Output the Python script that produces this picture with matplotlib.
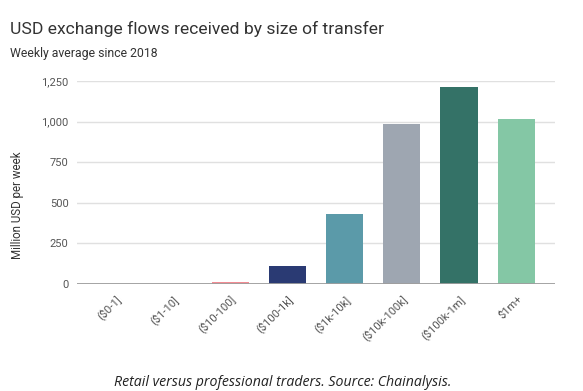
import matplotlib
matplotlib.use("Agg")
import matplotlib.pyplot as plt
import matplotlib.transforms as mtransforms
from matplotlib.ticker import FuncFormatter

categories = ["($0-1]", "($1-10]", "($10-100]", "($100-1k]", "($1k-10k]",
              "($10k-100k]", "($100k-1m]", "$1m+"]
values = [0.3, 1.5, 15, 111, 431, 985, 1212, 1016]
colors = ["#4e79a7", "#f2b84b", "#f28b93", "#2a3a73", "#5b9aa9",
          "#9ea6b1", "#347267", "#84c7a5"]
yticks = [0, 250, 500, 750, 1000, 1250]

fig = plt.figure(figsize=(5.83, 3.91), dpi=100)
ax = fig.add_axes([77/583, 1-284/391, (555-77)/583, (284-81)/391])

x = list(range(len(categories)))
ax.bar(x, values, width=0.65, color=colors, zorder=3)

ax.set_xlim(-0.68, 7.68)
ax.set_ylim(0, 1250)
ax.set_yticks(yticks)
ax.yaxis.set_major_formatter(FuncFormatter(lambda v, p: f"{int(v):,}"))
ax.grid(axis="y", color="#e0e0e0", linewidth=1, zorder=0)
ax.axhline(0, color="#9e9e9e", linewidth=1.3, zorder=4)
for s in ax.spines.values():
    s.set_visible(False)
ax.tick_params(axis="y", length=0, pad=6, labelsize=8, labelcolor="#555555")
ax.tick_params(axis="x", length=0, pad=4)
ax.set_xticks(x)
ax.set_xticklabels(categories, rotation=45, ha="right", va="top",
                   fontsize=8, color="#555555", family="Roboto")
offset = mtransforms.ScaledTranslation(8/100, -4/100, fig.dpi_scale_trans)
for lab in ax.get_xticklabels():
    lab.set_transform(lab.get_transform() + offset)
for lab in ax.get_yticklabels():
    lab.set_family("Roboto")

fig.text(18/583, 1-205/391, "Million USD per week", rotation=90, ha="center",
         va="center", fontsize=8.3, color="#333333", family="Roboto")

fig.text(10/583, 1-34/391, "USD exchange flows received by size of transfer",
         fontsize=12.6, color="#333333", family="Roboto", va="baseline")
fig.text(10/583, 1-57/391, "Weekly average since 2018",
         fontsize=8.8, color="#333333", family="Roboto", va="baseline")
fig.text(283/583, 1-386/391, "Retail versus professional traders. Source: Chainalysis.",
         fontsize=10.2, color="#222222", family="Open Sans", style="italic",
         ha="center", va="baseline")

fig.savefig("out.png", dpi=100, facecolor="white")
